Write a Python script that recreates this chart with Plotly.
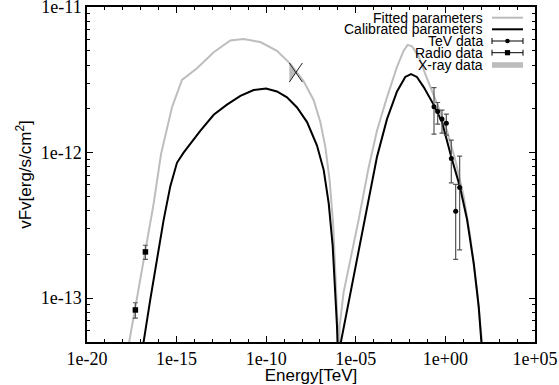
import numpy as np
import plotly.graph_objects as go

# ---------------- data (log10 energy [TeV], log10 vFv [erg/s/cm^2]) ----------------
fitted_log_e = [-17.86, -17.64, -17.21, -16.75, -16.28, -15.87, -15.26, -14.70, -13.86, -12.93,
                -12.00, -11.26, -10.33, -9.40, -8.65, -7.91, -7.35, -6.98, -6.70, -6.46,
                -6.27, -6.14, -6.05, -5.99,
                -5.94, -5.90, -5.68, -5.31, -4.84, -4.28, -3.82, -3.26, -2.70, -2.33,
                -2.11, -1.86, -1.49, -1.12, -0.75, -0.38, 0.09, 0.55, 1.02, 1.39,
                1.76, 2.06, 2.14]
fitted_log_f = [-13.45, -13.30, -13.01, -12.68, -12.35, -12.01, -11.69, -11.50, -11.42, -11.31,
                -11.23, -11.22, -11.24, -11.30, -11.39, -11.51, -11.64, -11.79, -11.96, -12.19,
                -12.48, -12.83, -13.17, -13.40,
                -13.40, -13.19, -12.96, -12.74, -12.46, -12.10, -11.85, -11.62, -11.41, -11.30,
                -11.26, -11.27, -11.34, -11.46, -11.57, -11.69, -11.85, -12.05, -12.30, -12.58,
                -12.94, -13.30, -13.42]

calib_log_e = [-16.93, -16.84, -16.47, -16.09, -15.72, -15.35, -14.98, -14.61, -14.23, -13.68,
               -12.93, -12.19, -11.44, -10.70, -10.01, -9.40, -8.84, -8.28, -7.72, -7.17,
               -6.79, -6.51, -6.29, -6.14, -6.05, -5.99,
               -5.92, -5.83, -5.12, -4.38, -3.82, -3.26, -2.70, -2.24, -1.92, -1.59,
               -1.21, -0.66, -0.19, 0.33, 0.80, 1.21, 1.58, 1.86, 2.01, 2.08]
calib_log_f = [-13.42, -13.30, -13.01, -12.74, -12.46, -12.23, -12.07, -12.00, -11.94, -11.85,
               -11.74, -11.67, -11.61, -11.57, -11.56, -11.58, -11.62, -11.69, -11.79, -11.95,
               -12.12, -12.35, -12.64, -12.94, -13.19, -13.42,
               -13.42, -13.30, -12.85, -12.39, -12.03, -11.77, -11.58, -11.48, -11.46, -11.48,
               -11.55, -11.67, -11.79, -12.03, -12.23, -12.46, -12.76, -13.06, -13.30, -13.42]

tev_energy = [0.231, 0.370, 0.646, 1.127, 2.14, 3.74, 6.25]
tev_flux = [2.07e-12, 1.92e-12, 1.70e-12, 1.59e-12, 9.1e-13, 3.95e-13, 5.75e-13]
tev_err_up = [7.3e-13, 2.9e-13, 2.6e-13, 2.5e-13, 3.1e-13, 2.1e-13, 3.7e-13]
tev_err_dn = [7.3e-13, 3.5e-13, 3.4e-13, 2.7e-13, 2.9e-13, 2.1e-13, 3.6e-13]

radio_energy = [5.0e-18, 1.82e-17]
radio_flux = [8.3e-14, 2.08e-13]
radio_err_up = [1.0e-14, 2.3e-14]
radio_err_dn = [1.0e-14, 2.3e-14]

xray_energy = [1.95e-9, 1.05e-8]     # band edges
xray_flux_hi = [4.13e-12, 4.13e-12]  # bow-tie upper flux at each edge
xray_flux_lo = [3.05e-12, 3.05e-12]  # bow-tie lower flux at each edge

x_tick_vals = [1e-20, 1e-15, 1e-10, 1e-5, 1e0, 1e5]
x_tick_text = ["1e-20", "1e-15", "1e-10", "1e-05", "1e+00", "1e+05"]
y_tick_vals = [1e-13, 1e-12, 1e-11]
y_tick_text = ["1e-13", "1e-12", "1e-11"]

legend_labels = ["Fitted parameters", "Calibrated parameters", "TeV data", "Radio data", "X-ray data"]

GRAY = "#bdbdbd"
ERR = "#555555"

fig = go.Figure()

# X-ray bow-tie (crossing lines + gray fill of left wedge)
xc = np.sqrt(xray_energy[0] * xray_energy[1])
yc = np.sqrt(xray_flux_hi[0] * xray_flux_lo[1])
fig.add_trace(go.Scatter(x=[xray_energy[0], xc, xray_energy[0], xray_energy[0]],
                         y=[xray_flux_hi[0], yc, xray_flux_lo[0], xray_flux_hi[0]],
                         mode="lines", fill="toself", fillcolor=GRAY, line=dict(width=0),
                         showlegend=False, hoverinfo="skip"))

fig.add_trace(go.Scatter(x=np.power(10.0, fitted_log_e), y=np.power(10.0, fitted_log_f),
                         mode="lines", line=dict(color=GRAY, width=2), showlegend=False))
fig.add_trace(go.Scatter(x=np.power(10.0, calib_log_e), y=np.power(10.0, calib_log_f),
                         mode="lines", line=dict(color="black", width=2), showlegend=False))

fig.add_trace(go.Scatter(x=[xray_energy[0], xray_energy[1], None, xray_energy[0], xray_energy[1]],
                         y=[xray_flux_hi[0], xray_flux_lo[1], None, xray_flux_lo[0], xray_flux_hi[1]],
                         mode="lines", line=dict(color="#222222", width=1), showlegend=False))

fig.add_trace(go.Scatter(x=tev_energy, y=tev_flux, mode="markers",
                         marker=dict(symbol="circle", size=5, color="black"),
                         error_y=dict(type="data", array=tev_err_up, arrayminus=tev_err_dn,
                                      color=ERR, thickness=1.2, width=2.5),
                         showlegend=False))
fig.add_trace(go.Scatter(x=radio_energy, y=radio_flux, mode="markers",
                         marker=dict(symbol="square", size=5.5, color="black"),
                         error_y=dict(type="data", array=radio_err_up, arrayminus=radio_err_dn,
                                      color=ERR, thickness=1.2, width=2.5),
                         showlegend=False))

# ---------------- custom legend (text right, sample left-to-right after it) ----------------
PW, PH = 448.0, 335.0
def px(dx):
    return dx / PW
def py(dy):
    return dy / PH

row_y = [1 - py(10.7), 1 - py(22.3), 1 - py(34.0), 1 - py(45.7), 1 - py(58.0)]
text_x = px(398.3)
s0, s1 = px(405), px(436)
sm = (s0 + s1) / 2

shapes = []
annotations = []
for lbl, yy in zip(legend_labels, row_y):
    annotations.append(dict(x=text_x, y=yy, xref="paper", yref="paper", text=lbl,
                            showarrow=False, xanchor="right", yanchor="middle",
                            font=dict(family="Liberation Sans", size=14, color="black")))
shapes.append(dict(type="line", xref="paper", yref="paper", x0=s0, x1=s1, y0=row_y[0], y1=row_y[0],
                   line=dict(color=GRAY, width=2)))
shapes.append(dict(type="line", xref="paper", yref="paper", x0=s0, x1=s1, y0=row_y[1], y1=row_y[1],
                   line=dict(color="black", width=2)))
for k, sym in ((2, "circle"), (3, "rect")):
    yy = row_y[k]
    shapes.append(dict(type="line", xref="paper", yref="paper", x0=s0, x1=s1, y0=yy, y1=yy,
                       line=dict(color="black", width=1)))
    for xe in (s0, s1):
        shapes.append(dict(type="line", xref="paper", yref="paper", x0=xe, x1=xe,
                           y0=yy - py(3), y1=yy + py(3), line=dict(color="black", width=1)))
    r = 2.3 if sym == "circle" else 2.6
    shapes.append(dict(type=sym, xref="paper", yref="paper", x0=sm - px(r), x1=sm + px(r),
                       y0=yy - py(r), y1=yy + py(r), fillcolor="black", line=dict(width=0)))
shapes.append(dict(type="rect", xref="paper", yref="paper", x0=s0, x1=s1,
                   y0=row_y[4] - py(2.8), y1=row_y[4] + py(2.8), fillcolor=GRAY, line=dict(width=0)))

x_minor = [10.0 ** k for k in range(-20, 6) if k % 5 != 0]
y_minor = [m * 10.0 ** e for e in (-14, -13, -12) for m in range(2, 10) if 5e-14 <= m * 10.0 ** e <= 1e-11]

tick_font = dict(family="Liberation Serif", size=18, color="black")
fig.update_layout(
    width=559, height=385,
    margin=dict(l=87, r=24, t=7, b=43, pad=0, autoexpand=False),
    paper_bgcolor="white", plot_bgcolor="white",
    shapes=shapes, annotations=annotations,
    xaxis=dict(type="log", range=[-20, 5], tickmode="array", tickvals=x_tick_vals, ticktext=x_tick_text,
               ticks="inside", ticklen=6, tickwidth=1, tickcolor="black",
               minor=dict(tickmode="array", tickvals=x_minor, ticks="inside", ticklen=3,
                          tickwidth=1, tickcolor="black", showgrid=False),
               showline=True, linecolor="black", linewidth=1.5, mirror="ticks", automargin=False,
               showgrid=False, zeroline=False, tickfont=tick_font, ticklabeloverflow="allow",
               title=dict(text="Energy[TeV]", standoff=1,
                          font=dict(family="Liberation Sans", size=17, color="black"))),
    yaxis=dict(type="log", range=[np.log10(5e-14), -10.9995], tickmode="array", tickvals=y_tick_vals,
               ticktext=y_tick_text, ticks="inside", ticklen=6, tickwidth=1, tickcolor="black",
               minor=dict(tickmode="array", tickvals=y_minor, ticks="inside", ticklen=3,
                          tickwidth=1, tickcolor="black", showgrid=False),
               showline=True, linecolor="black", linewidth=1.5, mirror="ticks", automargin=False,
               showgrid=False, zeroline=False, tickfont=tick_font, ticklabeloverflow="allow",
               title=dict(text="vFv[erg/s/cm<sup>2</sup>]", standoff=5,
                          font=dict(family="Liberation Sans", size=17, color="black"))),
)

fig.write_html("out.html")
